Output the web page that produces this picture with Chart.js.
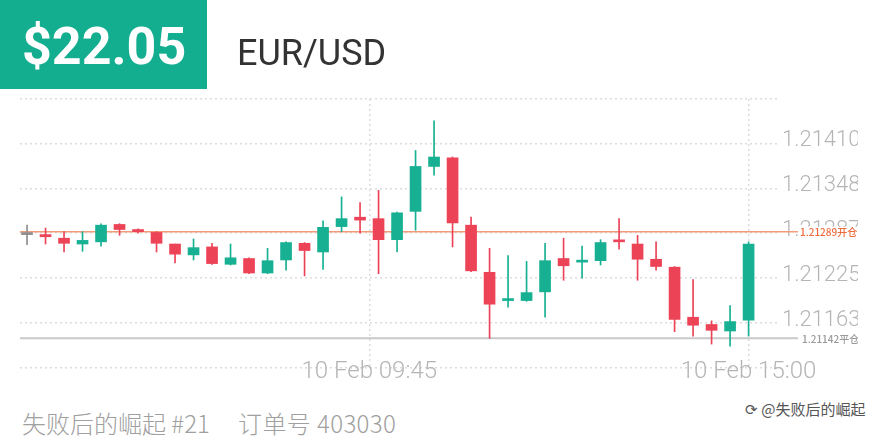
<!DOCTYPE html>
<html>
<head>
<meta charset="utf-8">
<script src="https://cdn.jsdelivr.net/npm/chart.js@4.4.1/dist/chart.umd.min.js"></script>
<style>
  body { margin: 0; width: 880px; height: 440px; background: #fff; position: relative; overflow: hidden; }
  #price-box { position: absolute; left: 0; top: 0; width: 207px; height: 89px; background: #13ae8f; z-index: 2; }
  #price { position: absolute; left: 22px; top: 21px; font: 700 52px/52px Roboto, sans-serif; color: #fff; }
  #pair { position: absolute; left: 237px; top: 35px; font: 400 36px/36px Roboto, sans-serif; color: #333; z-index: 2; }
  #chart-wrap { position: absolute; left: 0; top: 0; width: 858px; height: 390px; }
  .foot { position: absolute; top: 411px; font: 300 24px/24px "Noto Sans CJK SC", sans-serif; color: #a0a0a0; white-space: pre; }
  #mark { position: absolute; left: 745px; top: 400px; font: 400 15px/18px "Noto Sans CJK SC", sans-serif; color: #555;
          text-shadow: 0 0 2px #fff, 0 0 2px #fff; }
</style>
</head>
<body>
<div id="price-box"><div id="price">$22.05</div></div>
<div id="pair">EUR/USD</div>
<div id="chart-wrap"><canvas id="candles" width="858" height="390"></canvas></div>
<div class="foot" style="left:22px">失败后的崛起 #21</div>
<div class="foot" style="left:238px; letter-spacing:0.4px">订单号 403030</div>
<div id="mark">⟳ @失败后的崛起</div>

<script>
// 15-minute candles, EUR/USD
const opens  = [1.21285, 1.21285, 1.21280, 1.21272, 1.21275, 1.21299, 1.21292, 1.21288, 1.21272, 1.21257,
                1.21268, 1.21244, 1.21252, 1.21232, 1.21250, 1.21273, 1.21261, 1.21296, 1.21309, 1.21307,
                1.21278, 1.21317, 1.21379, 1.21391, 1.21298, 1.21233, 1.21194, 1.21194, 1.21206, 1.21252,
                1.21247, 1.21249, 1.21276, 1.21272, 1.21251, 1.21240, 1.21171, 1.21161, 1.21152, 1.21167];
const highs  = [1.21298, 1.21294, 1.21289, 1.21289, 1.21300, 1.21300, 1.21293, 1.21289, 1.21272, 1.21279,
                1.21273, 1.21272, 1.21253, 1.21266, 1.21275, 1.21274, 1.21304, 1.21337, 1.21329, 1.21346,
                1.21316, 1.21401, 1.21442, 1.21392, 1.21309, 1.21266, 1.21256, 1.21248, 1.21273, 1.21280,
                1.21269, 1.21278, 1.21307, 1.21284, 1.21275, 1.21241, 1.21223, 1.21166, 1.21187, 1.21275];
const lows   = [1.21271, 1.21272, 1.21261, 1.21262, 1.21269, 1.21284, 1.21287, 1.21261, 1.21246, 1.21250,
                1.21244, 1.21243, 1.21231, 1.21231, 1.21236, 1.21228, 1.21237, 1.21289, 1.21287, 1.21231,
                1.21261, 1.21291, 1.21367, 1.21268, 1.21234, 1.21142, 1.21185, 1.21193, 1.21171, 1.21222,
                1.21225, 1.21243, 1.21265, 1.21222, 1.21236, 1.21151, 1.21145, 1.21134, 1.21131, 1.21145];
const closes = [1.21285, 1.21282, 1.21273, 1.21277, 1.21298, 1.21292, 1.21289, 1.21273, 1.21258, 1.21267,
                1.21245, 1.21253, 1.21232, 1.21249, 1.21274, 1.21263, 1.21295, 1.21307, 1.21305, 1.21278,
                1.21315, 1.21379, 1.21392, 1.21301, 1.21235, 1.21189, 1.21195, 1.21205, 1.21249, 1.21242,
                1.21248, 1.21274, 1.21275, 1.21251, 1.21241, 1.21168, 1.21160, 1.21153, 1.21165, 1.21272];

const yTicks = [1.21101, 1.21163, 1.21225, 1.21287, 1.21348, 1.21410, 1.21472];
const yTickLabels = ['', '1.21163', '1.21225', '1.21287', '1.21348', '1.21410', ''];
const xTickPos = [18.5, 39];
const xTickLabels = ['10 Feb 09:45', '10 Feb 15:00'];

const openPrice = 1.21289;
const closePrice = 1.21142;
const openLabel = '1.21289开仓';
const closeLabel = '1.21142平仓';

const GREEN = '#17b092';
const RED = '#ec4357';
const GREY = '#8c8c8c';

const colors = opens.map((o, i) => closes[i] > o ? GREEN : (closes[i] < o ? RED : GREY));
const bodies = opens.map((o, i) => ({ x: i, y: [o, closes[i]] }));
const wicks = lows.map((l, i) => ({ x: i, y: [l, highs[i]] }));

// open / close price lines with their little labels
const tradeLines = {
    id: 'tradeLines',
    beforeDatasetsDraw(chart) {
        const { ctx, chartArea, scales } = chart;
        ctx.save();
        ctx.lineWidth = 1.5;
        ctx.strokeStyle = '#f39c7c';
        let y = scales.y.getPixelForValue(openPrice);
        ctx.beginPath(); ctx.moveTo(chartArea.left, y); ctx.lineTo(chartArea.right + 20, y); ctx.stroke();
        ctx.lineWidth = 2;
        ctx.strokeStyle = '#c9c9c9';
        y = scales.y.getPixelForValue(closePrice);
        ctx.beginPath(); ctx.moveTo(chartArea.left, y); ctx.lineTo(chartArea.right + 20, y); ctx.stroke();
        ctx.restore();
    },
    afterDraw(chart) {
        const { ctx, chartArea, scales } = chart;
        ctx.save();
        ctx.font = '500 10px "Noto Sans CJK SC", sans-serif';
        ctx.textBaseline = 'middle';
        let y = scales.y.getPixelForValue(openPrice);
        ctx.fillStyle = '#fff';
        ctx.fillRect(chartArea.right + 20, y - 5, 60, 12);
        ctx.fillStyle = '#ee6a3a';
        ctx.fillText(openLabel, chartArea.right + 22, y + 1);
        y = scales.y.getPixelForValue(closePrice);
        ctx.fillStyle = '#999';
        ctx.fillText(closeLabel, chartArea.right + 24, y + 1);
        ctx.restore();
    }
};

const ctx = document.getElementById('candles').getContext('2d');

const chart = new Chart(ctx, {
    type: 'bar',
    data: {
        datasets: [{
            label: 'body',
            data: bodies,
            backgroundColor: colors,
            barThickness: 11,
            minBarLength: 2,
            grouped: false,
            order: 0
        }, {
            label: 'wick',
            data: wicks,
            backgroundColor: colors,
            barThickness: 1,
            grouped: false,
            order: 1
        }]
    },
    options: {
        responsive: false,
        animation: false,
        layout: { padding: { left: 20, top: 99, right: 0, bottom: 0 } },
        plugins: { legend: { display: false }, tooltip: { enabled: false } },
        scales: {
            x: {
                type: 'linear',
                offset: false,
                min: -0.38,
                max: 40.59,
                afterBuildTicks: scale => { scale.ticks = xTickPos.map(v => ({ value: v })); },
                afterFit: scale => { scale.height = 22; },
                ticks: {
                    callback: (v, i) => xTickLabels[i],
                    mirror: true,
                    padding: -18,
                    maxRotation: 0,
                    autoSkip: false,
                    color: '#b5b5b5',
                    font: { family: 'Roboto', weight: '300', size: 24 }
                },
                grid: { color: '#dcdcdc', lineWidth: 1.5, drawTicks: false, offset: false },
                border: { display: false, dash: [2, 3] }
            },
            y: {
                position: 'right',
                min: yTicks[0],
                max: yTicks[yTicks.length - 1],
                afterBuildTicks: scale => { scale.ticks = yTicks.map(v => ({ value: v })); },
                afterFit: scale => { scale.width = 80; },
                ticks: {
                    callback: (v, i) => yTickLabels[i],
                    padding: 4,
                    labelOffset: -3,
                    color: '#b5b5b5',
                    font: { family: 'Roboto', weight: '300', size: 22 }
                },
                grid: { color: '#dcdcdc', lineWidth: 1.5, drawTicks: false },
                border: { display: false, dash: [2, 3] }
            }
        }
    },
    plugins: [tradeLines]
});
</script>
</body>
</html>
